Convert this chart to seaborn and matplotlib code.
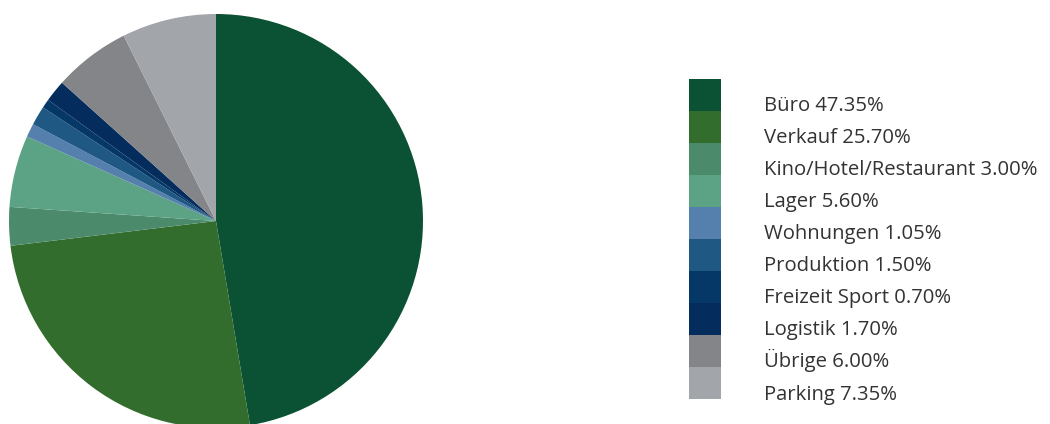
import matplotlib
matplotlib.use("Agg")
import matplotlib.pyplot as plt
from matplotlib.patches import Rectangle
import seaborn as sns

categories = ["Büro", "Verkauf", "Kino/Hotel/Restaurant", "Lager", "Wohnungen",
              "Produktion", "Freizeit Sport", "Logistik", "Übrige", "Parking"]
values = [47.35, 25.70, 3.00, 5.60, 1.05, 1.50, 0.70, 1.70, 6.00, 7.35]
colors = ["#0B5133", "#336D2E", "#4B8A6A", "#5BA384", "#5580AE",
          "#1F5883", "#053767", "#042C5C", "#848589", "#A2A5A9"]
labels = [f"{c} {v:.2f}%" for c, v in zip(categories, values)]

sns.set_theme(style="white")
plt.rcParams["font.family"] = ["Open Sans", "DejaVu Sans"]

W, H = 1050, 424
fig = plt.figure(figsize=(W / 100, H / 100), dpi=100)
cx, cy, r = 216, 221, 207
ax = fig.add_axes([(cx - r) / W, (H - cy - r) / H, 2 * r / W, 2 * r / H])
wedges, _ = ax.pie(values, colors=colors, startangle=90, counterclock=False,
                   radius=1, wedgeprops=dict(linewidth=0))
ax.set_xlim(-1, 1)
ax.set_ylim(-1, 1)
ax.set_aspect("equal")
ax.axis("off")

fs = 14.6
hh = 32.5 / (fs * 1.085)
hl = 23.04 / fs
common = dict(loc="upper left", frameon=False, fontsize=fs, labelspacing=0,
              handlelength=hl, handleheight=hh, borderpad=0, borderaxespad=0)

# colour squares
handles = [Rectangle((0, 0), 1, 1, facecolor=c, edgecolor="none") for c in colors]
leg1 = fig.legend(handles, [""] * len(labels),
                  bbox_to_anchor=(689 / W, 1 - 79 / H),
                  handletextpad=0, **common)
# labels (slightly lower, as in the reference)
ghost = [Rectangle((0, 0), 1, 1, facecolor="none", edgecolor="none") for _ in colors]
leg2 = fig.legend(ghost, labels,
                  bbox_to_anchor=(689 / W, 1 - 89 / H),
                  handletextpad=31 / fs, labelcolor="#333333", **common)
fig.add_artist(leg1)

fig.savefig("out.png", dpi=100)
